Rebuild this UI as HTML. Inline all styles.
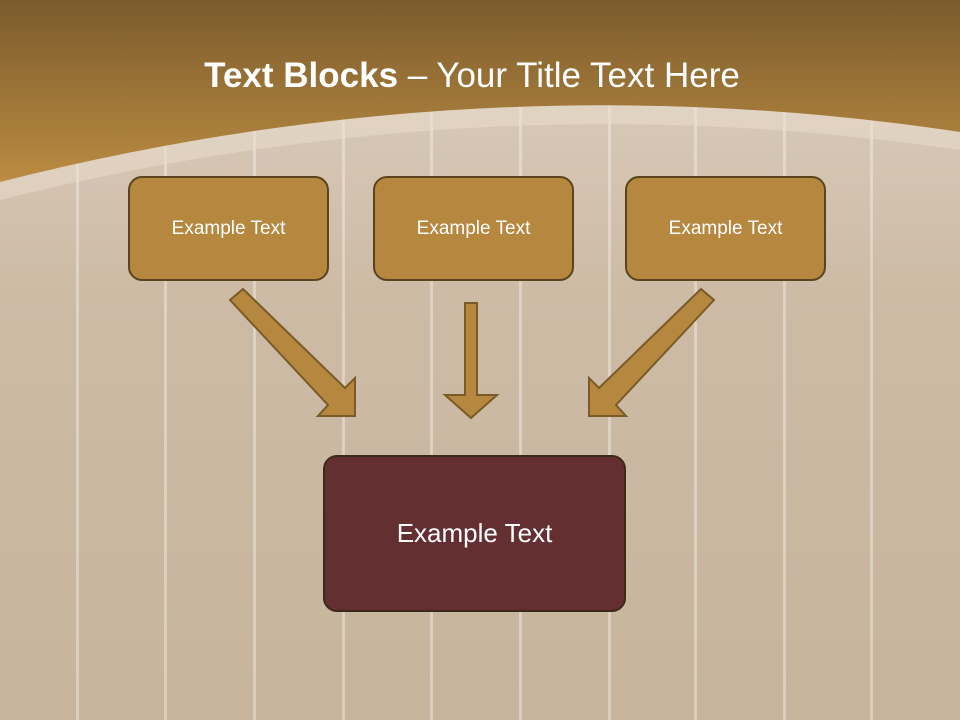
<!DOCTYPE html>
<html><head><meta charset="utf-8"><style>
body{margin:0;width:960px;height:720px;overflow:hidden;position:relative;font-family:"Liberation Sans",sans-serif;}
.bg{position:absolute;inset:0;background:linear-gradient(#ddd0c0,#cdbba6 40%,#c8b49c);}
.plank{position:absolute;top:0;bottom:0;width:3px;background:rgba(255,255,255,0.35);}
.box{position:absolute;box-sizing:border-box;border:2.5px solid #5a4420;border-radius:14px;background:#b5873f;color:#fff;display:flex;align-items:center;justify-content:center;font-size:19px;}
</style></head><body>
<div class="bg"></div>
<div class="plank" style="left:76px"></div><div class="plank" style="left:164px"></div>
<div class="plank" style="left:253px"></div><div class="plank" style="left:342px"></div>
<div class="plank" style="left:430px"></div><div class="plank" style="left:519px"></div>
<div class="plank" style="left:608px"></div><div class="plank" style="left:694px"></div>
<div class="plank" style="left:783px"></div><div class="plank" style="left:870px"></div>
<svg width="960" height="720" style="position:absolute;left:0;top:0">
<defs><linearGradient id="h" x1="0" y1="0" x2="0" y2="1"><stop offset="0" stop-color="#7b5b2c"/><stop offset="1" stop-color="#bb8c42"/></linearGradient></defs>
<path d="M0,200 Q480,80 960,150 L960,0 L0,0Z" fill="rgba(235,222,205,0.5)"/>
<path d="M0,182 Q480,60 960,132 L960,0 L0,0Z" fill="url(#h)"/>
<g fill="#b5873f" stroke="#7a5a26" stroke-width="2">
<polygon points="465,303 477,303 477,395 497,395 471,418 445,395 465,395"/>
<polygon points="230,300 243,289 345,388 355,378 355,416 318,416 328,405"/>
<polygon points="730,300 717,289 615,388 605,378 605,416 642,416 632,405" transform="translate(-16,0)"/>
</g>
<text x="472" y="87" text-anchor="middle" fill="#fff" font-size="35" font-family="Liberation Sans,sans-serif"><tspan font-weight="bold">Text Blocks</tspan> – Your Title Text Here</text>
</svg>
<div class="box" style="left:128px;top:176px;width:201px;height:105px">Example Text</div>
<div class="box" style="left:373px;top:176px;width:201px;height:105px">Example Text</div>
<div class="box" style="left:625px;top:176px;width:201px;height:105px">Example Text</div>
<div class="box" style="left:323px;top:455px;width:303px;height:157px;background:#642f30;border-color:#3b2a1a;font-size:26px">Example Text</div>
</body></html>
